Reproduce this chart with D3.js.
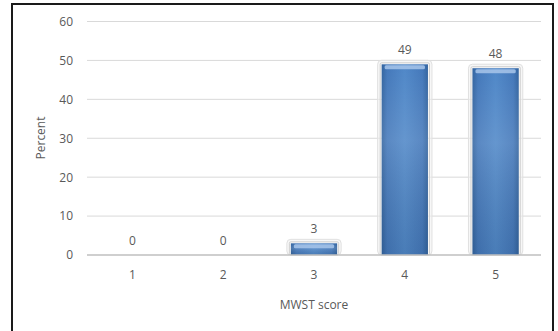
<!DOCTYPE html>
<html><head><meta charset="utf-8">
<script src="https://cdn.jsdelivr.net/npm/d3@7"></script>
<style>body{margin:0;background:#fff}svg{display:block}text{font-family:"Open Sans",sans-serif;fill:#595959}</style>
</head><body><svg id="c" width="558" height="331"></svg>
<script>
const categories = ["1","2","3","4","5"];
const values = [0,0,3,49,48];
const yTicks = [0,10,20,30,40,50,60];
const xTitle = "MWST score";
const yTitle = "Percent";

const svg = d3.select("#c");
const defs = svg.append("defs");
const g1 = defs.append("linearGradient").attr("id","hg").attr("x1","0").attr("x2","1").attr("y1","0").attr("y2","0");
[[0,"#33649f"],[0.12,"#4478ba"],[0.5,"#5088c8"],[0.88,"#4478ba"],[1,"#33649f"]].forEach(s=>g1.append("stop").attr("offset",s[0]).attr("stop-color",s[1]));
const g2 = defs.append("linearGradient").attr("id","vg").attr("x1","0").attr("x2","0").attr("y1","0").attr("y2","1");
[[0,"#ffffff",0.0],[0.4,"#ffffff",0.12],[1,"#000000",0.08]].forEach(s=>g2.append("stop").attr("offset",s[0]).attr("stop-color",s[1]).attr("stop-opacity",s[2]));

svg.append("rect").attr("x",12).attr("y",4).attr("width",541).attr("height",340)
  .attr("fill","#fff").attr("stroke","#1a1a1a").attr("stroke-width",2);

const x = d3.scaleBand().domain(categories).range([87,541]).paddingInner(0.49).paddingOuter(0.245);
const y = d3.scaleLinear().domain([0,60]).range([255,21.5]);

// gridlines
svg.append("g").selectAll("line").data(yTicks.filter(t=>t>0)).join("line")
  .attr("x1",87).attr("x2",541).attr("y1",d=>y(d)).attr("y2",d=>y(d))
  .attr("stroke","#d9d9d9").attr("stroke-width",1);

// y axis labels
const ya = svg.append("g").attr("transform","translate(73,0)")
  .call(d3.axisLeft(y).tickValues(yTicks).tickSize(0).tickPadding(0));
ya.select(".domain").remove();
ya.selectAll("text").attr("font-size",12).attr("font-family","Open Sans").attr("fill","#595959");

// bars
const bars = svg.append("g").selectAll("g").data(categories.map((c,i)=>({c,v:values[i]})).filter(d=>d.v>0)).join("g");
bars.append("rect").attr("x",d=>x(d.c)-4).attr("y",d=>y(d.v)-4).attr("width",x.bandwidth()+8)
  .attr("height",d=>y(0)-y(d.v)+4).attr("rx",4)
  .attr("fill","#f2f2f2").attr("fill-opacity",0.6).attr("stroke","#e0e0e0").attr("stroke-width",1);
bars.append("rect").attr("x",d=>x(d.c)-1.5).attr("y",d=>y(d.v)-1.5).attr("width",x.bandwidth()+3)
  .attr("height",d=>y(0)-y(d.v)+1.5).attr("rx",1.5)
  .attr("fill","none").attr("stroke","#cfcfcf").attr("stroke-width",1);
bars.append("rect").attr("x",d=>x(d.c)).attr("y",d=>y(d.v)).attr("width",x.bandwidth())
  .attr("height",d=>y(0)-y(d.v)).attr("fill","url(#hg)");
bars.append("rect").attr("x",d=>x(d.c)).attr("y",d=>y(d.v)).attr("width",x.bandwidth())
  .attr("height",d=>y(0)-y(d.v)).attr("fill","url(#vg)");
bars.append("rect").attr("x",d=>x(d.c)+3).attr("y",d=>y(d.v)+1).attr("width",x.bandwidth()-6)
  .attr("height",d=>Math.min(4,y(0)-y(d.v)-1)).attr("rx",1.5).attr("fill","#a8c6ea").attr("opacity",0.85);

// zero line
svg.append("line").attr("x1",87).attr("x2",541).attr("y1",y(0)).attr("y2",y(0))
  .attr("stroke","#bfbfbf").attr("stroke-width",1.5);

// value labels
svg.append("g").selectAll("text").data(categories.map((c,i)=>({c,v:values[i]}))).join("text")
  .attr("x",d=>x(d.c)+x.bandwidth()/2).attr("y",d=>y(d.v)-10)
  .attr("text-anchor","middle").attr("font-size",12).text(d=>d.v);

// x axis labels
const xa = svg.append("g").attr("transform","translate(0,270)")
  .call(d3.axisBottom(x).tickSize(0).tickPadding(0));
xa.select(".domain").remove();
xa.selectAll("text").attr("font-size",12).attr("font-family","Open Sans").attr("fill","#595959");

svg.append("text").attr("x",314).attr("y",309).attr("text-anchor","middle").attr("font-size",12).text(xTitle);
svg.append("text").attr("transform","translate(45,138) rotate(-90)").attr("text-anchor","middle").attr("font-size",12).text(yTitle);
</script></body></html>
